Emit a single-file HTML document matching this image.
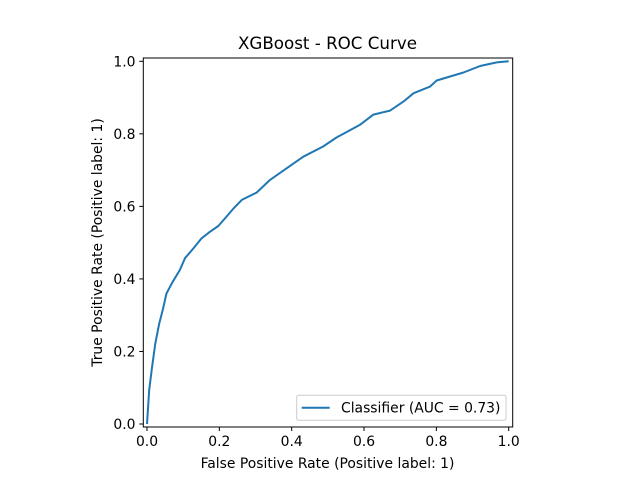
<!DOCTYPE html>
<html><head><meta charset="utf-8"><style>
body{margin:0;background:#fff}
svg text{font-family:"DejaVu Sans","Liberation Sans",sans-serif;fill:#000}
</style></head><body>
<svg width="640" height="480" xmlns="http://www.w3.org/2000/svg">
<rect width="640" height="480" fill="#fff"/>
<text x="327.5" y="49" font-size="16.7" text-anchor="middle">XGBoost - ROC Curve</text>
<g id="ticks"></g>
<path id="curve" fill="none" stroke="#1f77b4" stroke-width="2" stroke-linejoin="round"/>
<rect x="143.3" y="58" width="369.4" height="369" fill="none" stroke="#000" stroke-width="1"/>
<text x="327.5" y="468" font-size="13.9" text-anchor="middle">False Positive Rate (Positive label: 1)</text>
<text transform="translate(102,242.5) rotate(-90)" font-size="13.9" text-anchor="middle">True Positive Rate (Positive label: 1)</text>
<g>
<rect x="296.7" y="395.3" width="209.3" height="25" rx="2" fill="#fff" fill-opacity="0.8" stroke="#ccc" stroke-width="1"/>
<line x1="301.7" y1="407.8" x2="329.7" y2="407.8" stroke="#1f77b4" stroke-width="2"/>
<text x="341" y="412.5" font-size="13.9">Classifier (AUC = 0.73)</text>
</g>
</svg>
<script>
const fpr=[0,0.006,0.014,0.023,0.034,0.0435,0.054,0.071,0.091,0.105,0.128,0.151,0.174,0.197,0.22,0.239,0.262,0.303,0.34,0.386,0.432,0.487,0.524,0.589,0.626,0.672,0.709,0.737,0.782,0.801,0.838,0.875,0.921,0.967,1];
const tpr=[0,0.094,0.158,0.222,0.278,0.314,0.36,0.392,0.425,0.457,0.484,0.512,0.53,0.546,0.572,0.594,0.618,0.638,0.673,0.705,0.737,0.765,0.79,0.825,0.853,0.864,0.889,0.912,0.93,0.947,0.958,0.969,0.987,0.997,1];
const tickVals=[0,0.2,0.4,0.6,0.8,1.0];
const tickLabels=["0.0","0.2","0.4","0.6","0.8","1.0"];
const sx=v=>147+v*361.7, sy=v=>424-v*362.7;
const ns="http://www.w3.org/2000/svg";
const c=document.getElementById('curve');
c.setAttribute('d',fpr.map((v,i)=>(i?'L':'M')+sx(v).toFixed(1)+' '+sy(tpr[i]).toFixed(1)).join(''));
const g=document.getElementById('ticks');
tickVals.forEach((v,i)=>{
 const x=sx(v),y=sy(v);
 const l1=document.createElementNS(ns,'line');
 
 
 l1.setAttribute('x1',x);l1.setAttribute('x2',x);l1.setAttribute('y1',427);l1.setAttribute('y2',431);l1.setAttribute('stroke','#000');l1.setAttribute('stroke-width','1');g.appendChild(l1);
 const t1=document.createElementNS(ns,'text');
 
 
 t1.setAttribute('x',x);t1.setAttribute('y',446);t1.setAttribute('font-size','13.9');t1.setAttribute('text-anchor','middle');t1.textContent=tickLabels[i];g.appendChild(t1);
 const l2=document.createElementNS(ns,'line');
 
 
 l2.setAttribute('x1',139.3);l2.setAttribute('x2',143.3);l2.setAttribute('y1',y);l2.setAttribute('y2',y);l2.setAttribute('stroke','#000');l2.setAttribute('stroke-width','1');g.appendChild(l2);
 const t2=document.createElementNS(ns,'text');
 
 
 t2.setAttribute('x',135.5);t2.setAttribute('y',y+5);t2.setAttribute('font-size','13.9');t2.setAttribute('text-anchor','end');t2.textContent=tickLabels[i];g.appendChild(t2);
});
</script>
</body></html>
